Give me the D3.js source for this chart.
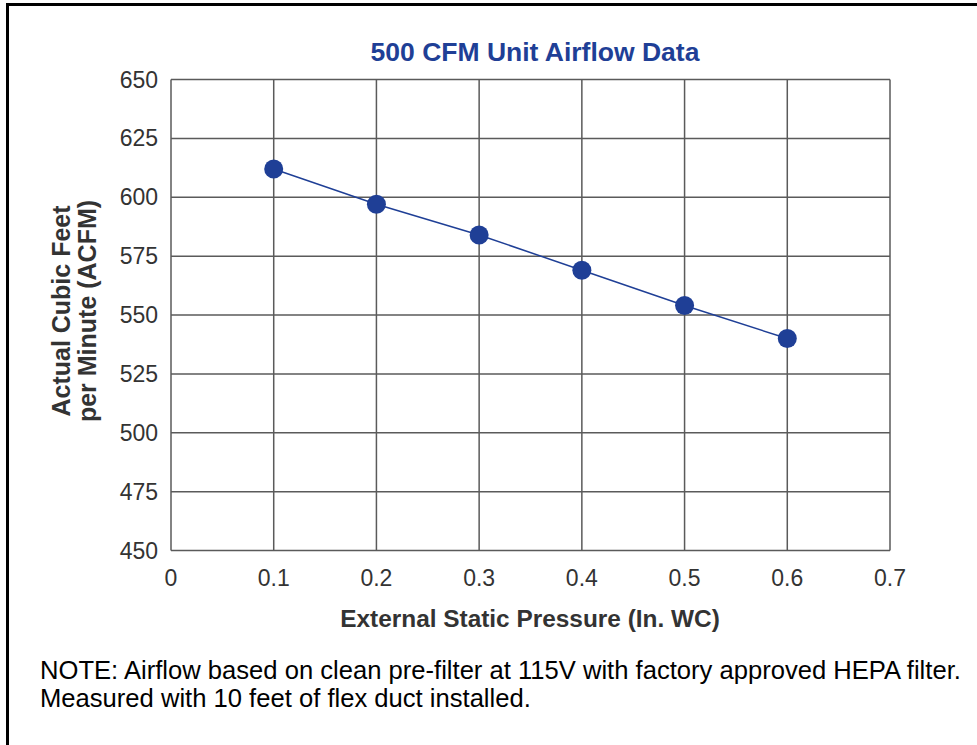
<!DOCTYPE html>
<html><head><meta charset="utf-8">
<script src="https://cdn.jsdelivr.net/npm/d3@7"></script>
<style>body{margin:0;background:#fff}svg{display:block}text{font-family:"Liberation Sans",Arial,sans-serif}</style>
</head><body>
<script>
const pressure = [0.1, 0.2, 0.3, 0.4, 0.5, 0.6];
const airflow = [612, 597, 584, 569, 554, 540];
const xTicks = [0, 0.1, 0.2, 0.3, 0.4, 0.5, 0.6, 0.7];
const yTicks = [450, 475, 500, 525, 550, 575, 600, 625, 650];
const title = "500 CFM Unit Airflow Data";
const xTitle = "External Static Pressure (In. WC)";
const yTitle = ["Actual Cubic Feet", "per Minute (ACFM)"];
const note = ["NOTE: Airflow based on clean pre-filter at 115V with factory approved HEPA filter.", "Measured with 10 feet of flex duct installed."];

const W = 977, H = 745;
const svg = d3.select("body").append("svg").attr("width", W).attr("height", H);
// frame
svg.append("path").attr("d", "M7.5,745 L7.5,4.5 L977,4.5").attr("fill", "none").attr("stroke", "#000").attr("stroke-width", 3);

const m = {l: 171, r: 890, t: 79.5, b: 550.5};
const x = d3.scaleLinear().domain([0, 0.7]).range([m.l, m.r]);
const y = d3.scaleLinear().domain([450, 650]).range([m.b, m.t]);
const grid = "#5a5a5a", blue = "#1f3f96", tick = "#333";

const g = svg.append("g");
g.selectAll("line.v").data(xTicks).join("line")
  .attr("x1", d => x(d)).attr("x2", d => x(d)).attr("y1", m.t).attr("y2", m.b)
  .attr("stroke", grid).attr("stroke-width", 1.5);
g.selectAll("line.h").data(yTicks).join("line")
  .attr("x1", m.l).attr("x2", m.r).attr("y1", d => y(d)).attr("y2", d => y(d))
  .attr("stroke", grid).attr("stroke-width", 1.5);

g.selectAll("text.yt").data(yTicks).join("text")
  .attr("x", 158).attr("y", d => y(d) + 8).attr("text-anchor", "end")
  .attr("font-size", 23).attr("fill", tick).text(d => d);
g.selectAll("text.xt").data(xTicks).join("text")
  .attr("x", d => x(d)).attr("y", 586).attr("text-anchor", "middle")
  .attr("font-size", 23).attr("fill", tick).text(d => d);

const pts = pressure.map((p, i) => [p, airflow[i]]);
g.append("path").datum(pts)
  .attr("d", d3.line().x(d => x(d[0])).y(d => y(d[1])))
  .attr("fill", "none").attr("stroke", blue).attr("stroke-width", 1.5);
g.selectAll("circle").data(pts).join("circle")
  .attr("cx", d => x(d[0])).attr("cy", d => y(d[1])).attr("r", 9.5).attr("fill", blue);

svg.append("text").attr("x", 535).attr("y", 61).attr("text-anchor", "middle")
  .attr("font-size", 26.5).attr("font-weight", "bold").attr("fill", blue).text(title);
svg.append("text").attr("x", 530).attr("y", 627).attr("text-anchor", "middle")
  .attr("font-size", 24.4).attr("font-weight", "bold").attr("fill", tick).text(xTitle);
yTitle.forEach((t, i) => {
  svg.append("text").attr("transform", `translate(${70 + i * 26},311) rotate(-90)`)
    .attr("text-anchor", "middle").attr("font-size", 25).attr("font-weight", "bold")
    .attr("fill", tick).text(t);
});
note.forEach((t, i) => {
  svg.append("text").attr("x", 40).attr("y", 679 + i * 28)
    .attr("font-size", 25.6).attr("fill", "#000").text(t);
});
</script>
</body></html>
